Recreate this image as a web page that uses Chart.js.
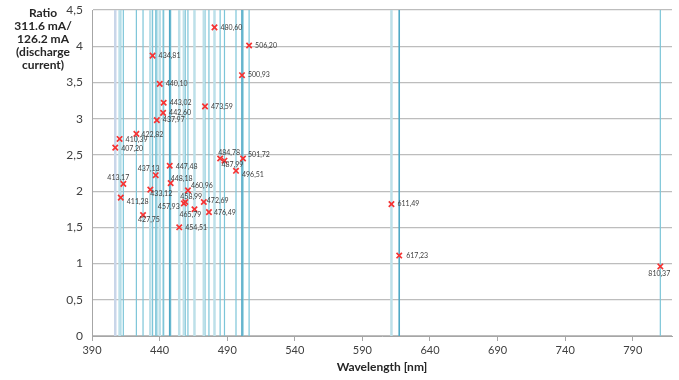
<!DOCTYPE html>
<html>
<head>
<meta charset="utf-8">
<script src="https://cdn.jsdelivr.net/npm/chart.js@4"></script>
<style>
  html, body { margin: 0; padding: 0; background: #fff; }
  #wrap { width: 679px; height: 380px; }
</style>
</head>
<body>
<div id="wrap"><canvas id="ratio-chart"></canvas></div>
<script>
const wavelengths = [407.20, 410.39, 411.28, 413.17, 422.82, 427.75, 433.12, 434.81, 437.13, 437.97,
    440.10, 442.60, 443.02, 447.48, 448.18, 454.51, 457.93, 458.99, 460.96, 465.79,
    472.69, 473.59, 476.49, 480.60, 484.78, 487.99, 496.51, 500.93, 501.72, 506.20,
    611.49, 617.23, 810.37];
const ratios = [2.60, 2.72, 1.91, 2.10, 2.79, 1.67, 2.02, 3.87, 2.22, 2.98,
    3.48, 3.08, 3.22, 2.35, 2.11, 1.50, 1.83, 1.85, 2.01, 1.75,
    1.85, 3.17, 1.71, 4.26, 2.45, 2.42, 2.28, 3.60, 2.45, 4.01,
    1.82, 1.11, 0.96];
const xTicks = [390, 440, 490, 540, 590, 640, 690, 740, 790];
const yTicks = [0, 0.5, 1, 1.5, 2, 2.5, 3, 3.5, 4, 4.5];

// line tint per wavelength: l = light, m = medium, d = dark, v = violet-grey
const lineTints = ['v', 'l', 'm', 'm', 'm', 'm', 'l', 'm', 'm', 'm',
    'l', 'm', 'm', 'd', 'm', 'l', 'l', 'm', 'm', 'l',
    'l', 'm', 'm', 'l', 'm', 'm', 'm', 'd', 'm', 'm',
    'l', 'd', 'm'];
const tintStyle = {
    v: { color: '#c9d6e9', width: 2.5 },
    l: { color: '#bde0e9', width: 2.5 },
    m: { color: '#7cc5d8', width: 1.2 },
    d: { color: '#4fa9c6', width: 1.6 }
};
// label offsets from the marker (px)
const labelOffsets = [[6, 1], [6, 1], [6, 4], [-16, -6], [5, 1], [-5, 5], [0, 4], [6, 0], [-18, -6], [6, 0],
    [6, 0], [6, 0], [6, 0], [6, 1], [0, -4], [6, 0], [-26, 3], [-5, -5], [3, -5], [-15, 6],
    [3, -1], [6, 0], [5, 1], [6, 0], [-2, -6], [-3, 4], [6, 4], [6, 0], [5, -4], [6, 0],
    [6, 0], [7, 0], [-12, 7]];

const FONT = 'Lato, "Open Sans", sans-serif';
const yMax = yTicks[yTicks.length - 1];

const lineSets = wavelengths.map((w, i) => ({
    type: 'line',
    data: [{ x: w, y: 0 }, { x: w, y: yMax }],
    borderColor: tintStyle[lineTints[i]].color,
    borderWidth: tintStyle[lineTints[i]].width,
    pointRadius: 0,
    order: 2
}));

const pointLabels = {
    id: 'pointLabels',
    afterDatasetsDraw(chart) {
        const ctx = chart.ctx;
        const xs = chart.scales.x, ys = chart.scales.y;
        ctx.save();
        ctx.font = '7px ' + FONT;
        ctx.fillStyle = '#404040';
        ctx.textAlign = 'left';
        ctx.textBaseline = 'middle';
        wavelengths.forEach((w, i) => {
            const px = xs.getPixelForValue(w);
            const py = ys.getPixelForValue(ratios[i]);
            const [dx, dy] = labelOffsets[i];
            ctx.fillText(w.toFixed(2).replace('.', ','), px + dx, py + dy);
        });
        ctx.restore();
    }
};

const axisTitles = {
    id: 'axisTitles',
    afterDraw(chart) {
        const ctx = chart.ctx;
        ctx.save();
        ctx.fillStyle = '#262626';
        ctx.font = 'bold 12px ' + FONT;
        ctx.textAlign = 'center';
        ctx.textBaseline = 'middle';
        ['Ratio', '311.6 mA/', '126.2 mA', '(discharge', 'current)'].forEach((t, i) => {
            ctx.fillText(t, 43, 13 + i * 13);
        });
        const a = chart.chartArea;
        ctx.fillText('Wavelength [nm]', (a.left + a.right) / 2, 367);
        ctx.restore();
    }
};

new Chart(document.getElementById('ratio-chart'), {
    type: 'scatter',
    data: {
        datasets: [{
            label: 'Ratio',
            data: wavelengths.map((w, i) => ({ x: w, y: ratios[i] })),
            pointStyle: 'crossRot',
            pointRadius: 3.8,
            pointHoverRadius: 3.8,
            borderColor: '#f53333',
            borderWidth: 1.7,
            order: 0
        }, ...lineSets]
    },
    options: {
        responsive: true,
        maintainAspectRatio: false,
        animation: false,
        layout: { padding: { top: 10, right: 7, left: 0, bottom: 0 } },
        plugins: {
            legend: { display: false },
            tooltip: { enabled: false }
        },
        scales: {
            x: {
                type: 'linear',
                min: 390,
                max: 819,
                afterBuildTicks: (scale) => { scale.ticks = xTicks.map(v => ({ value: v })); },
                afterFit: (scale) => {
                    scale.height = 44;
                    scale.paddingLeft = 0;
                    scale.paddingRight = 0;
                },
                grid: { drawOnChartArea: false, drawTicks: true, tickLength: 5, color: '#a6a6a6' },
                border: { color: '#a6a6a6', width: 1 },
                ticks: { color: '#404040', font: { family: FONT, size: 11 }, padding: 3, maxRotation: 0 }
            },
            y: {
                min: 0,
                max: yMax,
                afterBuildTicks: (scale) => { scale.ticks = yTicks.map(v => ({ value: v })); },
                afterFit: (scale) => {
                    scale.width = 92;
                    scale.paddingTop = 0;
                    scale.paddingBottom = 0;
                },
                grid: { color: '#bdbdbd', lineWidth: 1.2, drawTicks: false },
                border: { color: '#a6a6a6', width: 1 },
                ticks: {
                    color: '#404040',
                    font: { family: FONT, size: 12 },
                    padding: 9,
                    callback: (v) => String(v).replace('.', ',')
                }
            }
        }
    },
    plugins: [pointLabels, axisTitles]
});
</script>
</body>
</html>
